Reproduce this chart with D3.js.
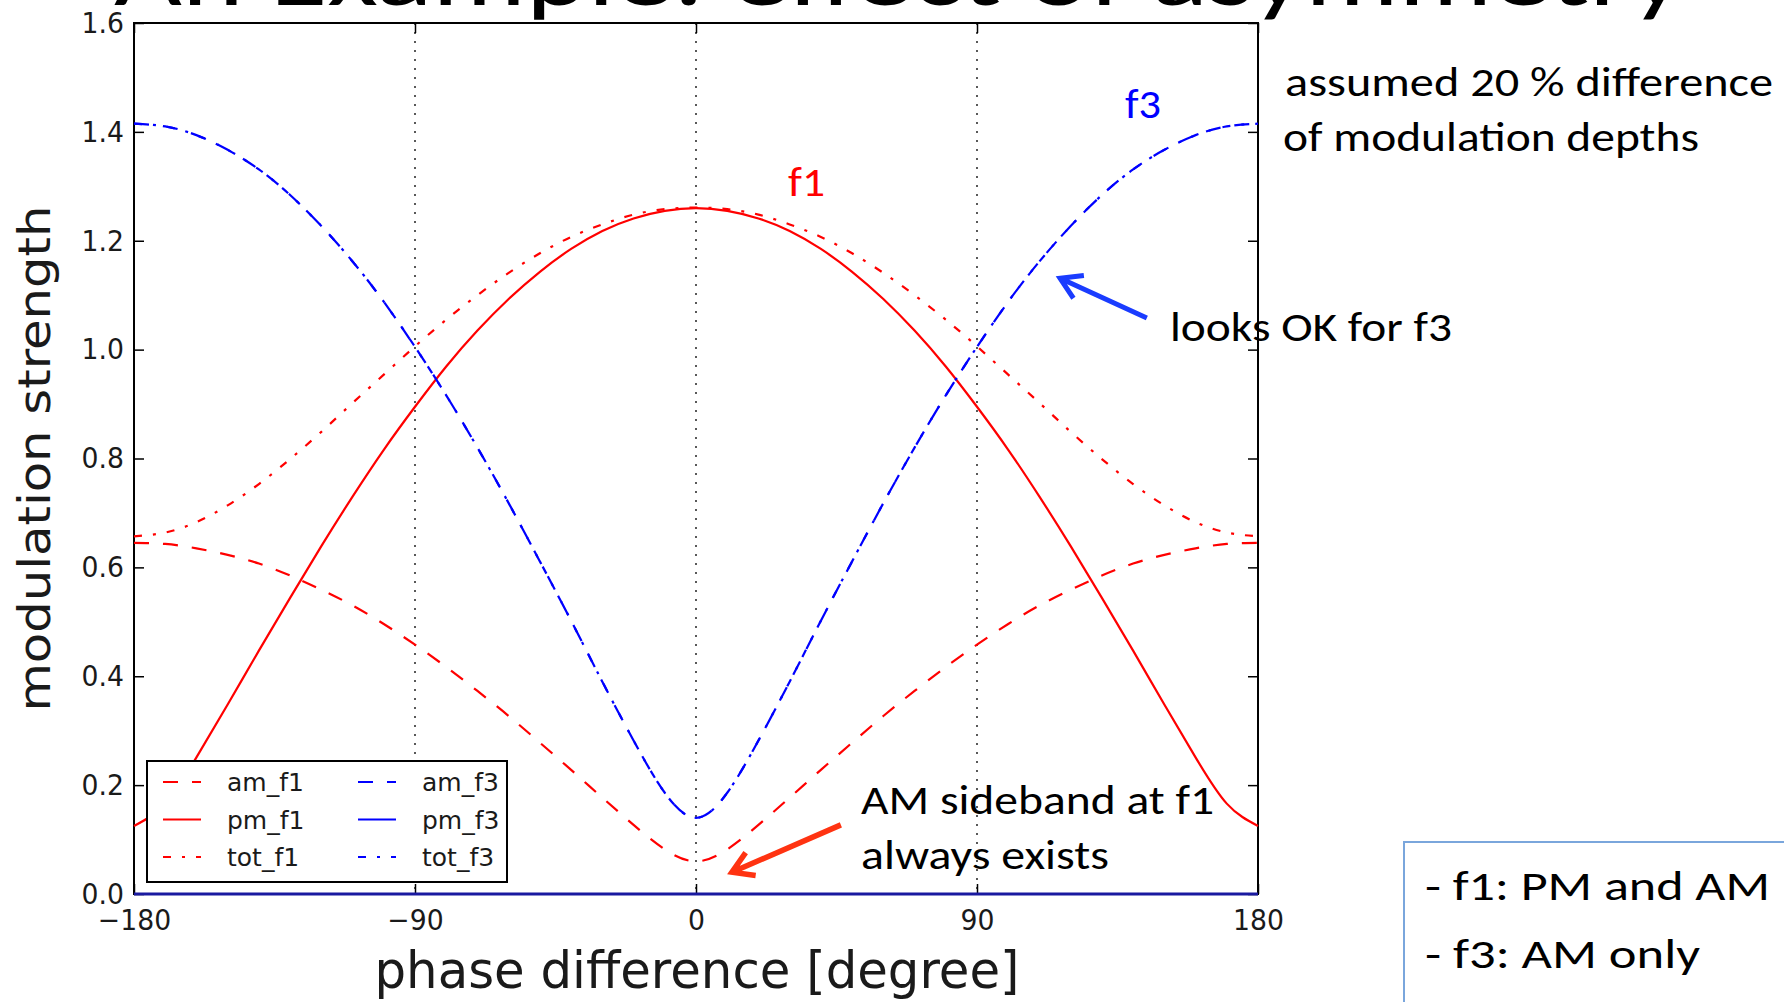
<!DOCTYPE html>
<html>
<head>
<meta charset="utf-8">
<script src="https://cdn.jsdelivr.net/npm/d3@7"></script>
<style>
  body { margin: 0; background: #fff; }
  svg { display: block; }
</style>
</head>
<body>
<svg id="chart" width="1784" height="1002"></svg>
<script>
// ---- data (every 10 degrees) ----
var phase = [-180,-170,-160,-150,-140,-130,-120,-110,-100,-90,-80,-70,-60,-50,-40,-30,-20,-10,0,
             10,20,30,40,50,60,70,80,90,100,110,120,130,140,150,160,170,180];

var amF1 = [0.645,0.643,0.635,0.623,0.607,0.585,0.559,0.530,0.496,0.458,0.417,0.373,0.327,0.278,0.228,0.177,0.127,0.082,0.060,
            0.082,0.127,0.177,0.228,0.278,0.327,0.373,0.417,0.458,0.496,0.530,0.559,0.585,0.607,0.623,0.635,0.643,0.645];
var pmF1 = [0.125,0.166,0.251,0.348,0.447,0.544,0.639,0.730,0.816,0.895,0.969,1.035,1.093,1.143,1.185,1.218,1.241,1.255,1.260,
            1.255,1.241,1.218,1.185,1.143,1.093,1.035,0.969,0.895,0.816,0.730,0.639,0.544,0.447,0.348,0.251,0.166,0.125];
var totF1 = [0.657,0.664,0.683,0.714,0.753,0.799,0.849,0.902,0.954,1.006,1.055,1.100,1.141,1.177,1.207,1.230,1.248,1.258,1.261,
             1.258,1.248,1.230,1.207,1.177,1.141,1.100,1.055,1.006,0.954,0.902,0.849,0.799,0.753,0.714,0.683,0.664,0.657];
var amF3 = [1.415,1.410,1.394,1.367,1.331,1.284,1.227,1.162,1.088,1.005,0.916,0.820,0.718,0.611,0.502,0.390,0.282,0.186,0.140,
            0.186,0.282,0.390,0.502,0.611,0.718,0.820,0.916,1.005,1.088,1.162,1.227,1.284,1.331,1.367,1.394,1.410,1.415];
var pmF3 = [0,0,0,0,0,0,0,0,0,0,0,0,0,0,0,0,0,0,0,
            0,0,0,0,0,0,0,0,0,0,0,0,0,0,0,0,0,0];
var totF3 = [1.415,1.410,1.394,1.367,1.331,1.284,1.227,1.162,1.088,1.005,0.916,0.820,0.718,0.611,0.502,0.390,0.282,0.186,0.140,
             0.186,0.282,0.390,0.502,0.611,0.718,0.820,0.916,1.005,1.088,1.162,1.227,1.284,1.331,1.367,1.394,1.410,1.415];

var seriesNames = ["am_f1","pm_f1","tot_f1","am_f3","pm_f3","tot_f3"];
var seriesValues = [amF1, pmF1, totF1, amF3, pmF3, totF3];

var xTicks = [-180,-90,0,90,180];
var yTicks = [0,0.2,0.4,0.6,0.8,1.0,1.2,1.4,1.6];

// annotation arrows in data units: [x tail, y tail, x tip, y tip]
var blueArrow = [144.4, 1.058, 116.6, 1.131];
var redArrow = [46.4, 0.127, 11.5, 0.040];

// ---- layout ----
var plot = {left: 134, top: 23, right: 1258, bottom: 894};
var svg = d3.select("#chart");
var chartFont = "'DejaVu Sans', sans-serif";
var slideFont = "Carlito, Calibri, Lato, sans-serif";

var x = d3.scaleLinear().domain([-180, 180]).range([plot.left, plot.right]);
var y = d3.scaleLinear().domain([0, 1.6]).range([plot.bottom, plot.top]);

// line styles (matplotlib classic look)
function styleOf(name){
    var color = name.indexOf("f1") >= 0 ? "#ff0000" : "#0000ff";
    var dash = null;
    if(name.indexOf("am_") == 0) dash = "15,14";
    if(name.indexOf("tot_") == 0) dash = "8,11,3,11";
    return {color: color, dash: dash};
}

svg.append("rect").attr("width", 1784).attr("height", 1002).attr("fill", "#fff");

// grid (vertical only, dotted)
svg.append("g").selectAll("line")
    .data(xTicks.slice(1, -1))
    .join("line")
    .attr("x1", function(d){ return x(d); })
    .attr("x2", function(d){ return x(d); })
    .attr("y1", plot.top).attr("y2", plot.bottom)
    .attr("stroke", "#000")
    .attr("stroke-width", 1.3)
    .attr("stroke-dasharray", "2,7");

// frame
svg.append("rect")
    .attr("x", plot.left).attr("y", plot.top)
    .attr("width", plot.right - plot.left).attr("height", plot.bottom - plot.top)
    .attr("fill", "none").attr("stroke", "#000").attr("stroke-width", 2);

// axes with inside ticks
var gLeft = svg.append("g").attr("transform", "translate(" + plot.left + ",0)")
    .call(d3.axisLeft(y).tickValues(yTicks).tickFormat(d3.format(".1f")).tickSize(-10).tickSizeOuter(0).tickPadding(11));
var gBottom = svg.append("g").attr("transform", "translate(0," + plot.bottom + ")")
    .call(d3.axisBottom(x).tickValues(xTicks).tickSize(-10).tickSizeOuter(0).tickPadding(15));
var gRight = svg.append("g").attr("transform", "translate(" + plot.right + ",0)")
    .call(d3.axisRight(y).tickValues(yTicks).tickFormat("").tickSize(-10).tickSizeOuter(0));
var gTop = svg.append("g").attr("transform", "translate(0," + plot.top + ")")
    .call(d3.axisTop(x).tickValues(xTicks).tickFormat("").tickSize(-10).tickSizeOuter(0));

[gLeft, gBottom, gRight, gTop].forEach(function(g){
    g.select(".domain").remove();
    g.selectAll(".tick line").attr("stroke", "#000").attr("stroke-width", 1.5);
    g.selectAll(".tick text")
        .attr("fill", "#1a1a1a")
        .style("font-family", chartFont)
        .style("font-size", "29px")
        .attr("transform", "scale(0.92,1)");
});

// curves
var line = d3.line()
    .x(function(d){ return x(d[0]); })
    .y(function(d){ return y(d[1]); })
    .curve(d3.curveNatural);

seriesNames.forEach(function(name, i){
    var st = styleOf(name);
    var pts = phase.map(function(p, j){ return [p, seriesValues[i][j]]; });
    svg.append("path")
        .attr("id", "series_" + name)
        .attr("d", line(pts))
        .attr("fill", "none")
        .attr("stroke", name == "pm_f3" ? "#1a1aa0" : st.color)
        .attr("stroke-width", name == "pm_f3" ? 3 : 2.2)
        .attr("stroke-dasharray", st.dash);
});

// legend (two columns)
var legend = svg.append("g");
legend.append("rect")
    .attr("x", 147).attr("y", 761).attr("width", 360).attr("height", 121)
    .attr("fill", "#fff").attr("stroke", "#000").attr("stroke-width", 2);

seriesNames.forEach(function(name, i){
    var st = styleOf(name);
    var col = Math.floor(i / 3), row = i % 3;
    var lx = 163 + col * 195, ly = 782 + row * 37.5;
    legend.append("line")
        .attr("x1", lx).attr("x2", lx + 38)
        .attr("y1", ly).attr("y2", ly)
        .attr("stroke", st.color).attr("stroke-width", 2.2)
        .attr("stroke-dasharray", st.dash);
    legend.append("text")
        .attr("x", lx + 64).attr("y", ly + 9)
        .style("font-family", chartFont).style("font-size", "25px")
        .attr("fill", "#1a1a1a")
        .text(name);
});

// axis labels
svg.append("text")
    .attr("x", 697).attr("y", 988)
    .attr("text-anchor", "middle")
    .attr("textLength", 645).attr("lengthAdjust", "spacingAndGlyphs")
    .style("font-family", chartFont).style("font-size", "52px")
    .attr("fill", "#1a1a1a")
    .text("phase difference [degree]");

svg.append("text")
    .attr("transform", "translate(50," + ((plot.top + plot.bottom) / 2) + ") scale(0.87,1) rotate(-90)")
    .attr("text-anchor", "middle")
    .attr("textLength", 506).attr("lengthAdjust", "spacingAndGlyphs")
    .style("font-family", chartFont).style("font-size", "50px")
    .attr("fill", "#1a1a1a")
    .text("modulation strength");

// arrows
function arrow(a, color, w){
    var x1 = x(a[0]), y1 = y(a[1]), x2 = x(a[2]), y2 = y(a[3]);
    var ang = Math.atan2(y1 - y2, x1 - x2);
    var len = 24, spread = 0.55;
    var hx1 = x2 + len * Math.cos(ang + spread), hy1 = y2 + len * Math.sin(ang + spread);
    var hx2 = x2 + len * Math.cos(ang - spread), hy2 = y2 + len * Math.sin(ang - spread);
    svg.append("path")
        .attr("d", "M" + x1 + "," + y1 + "L" + x2 + "," + y2 +
                   "M" + hx1 + "," + hy1 + "L" + x2 + "," + y2 + "L" + hx2 + "," + hy2)
        .attr("fill", "none").attr("stroke", color)
        .attr("stroke-width", w).attr("stroke-linejoin", "miter");
}
arrow(blueArrow, "#1a3cff", 5);
arrow(redArrow, "#ff3311", 5.5);

// slide text
function slideText(txt, tx, ty, len, color, size){
    svg.append("text")
        .attr("x", tx).attr("y", ty)
        .attr("textLength", len).attr("lengthAdjust", "spacingAndGlyphs")
        .style("font-family", slideFont).style("font-size", (size || 41) + "px")
        .attr("fill", color || "#000")
        .text(txt);
}
slideText("f1", 788, 196, 37, "#ff0000");
slideText("f3", 1125, 118, 36, "#0000ff");
slideText("assumed 20 % difference", 1285, 96, 488);
slideText("of modulation depths", 1283, 151, 416);
slideText("looks OK for f3", 1170, 341, 282);
slideText("AM sideband at f1", 861, 814, 353);
slideText("always exists", 861, 869, 248);

svg.append("rect")
    .attr("x", 1404).attr("y", 842).attr("width", 420).attr("height", 220)
    .attr("fill", "#fff").attr("stroke", "#7aa6dc").attr("stroke-width", 2);
slideText("- f1: PM and AM", 1425, 900, 345);
slideText("- f3: AM only", 1425, 968, 275);

// slide title, cut off by the top edge
slideText("An Example: effect of asymmetry", 114, 5, 1570, "#000", 88);
</script>
</body>
</html>
